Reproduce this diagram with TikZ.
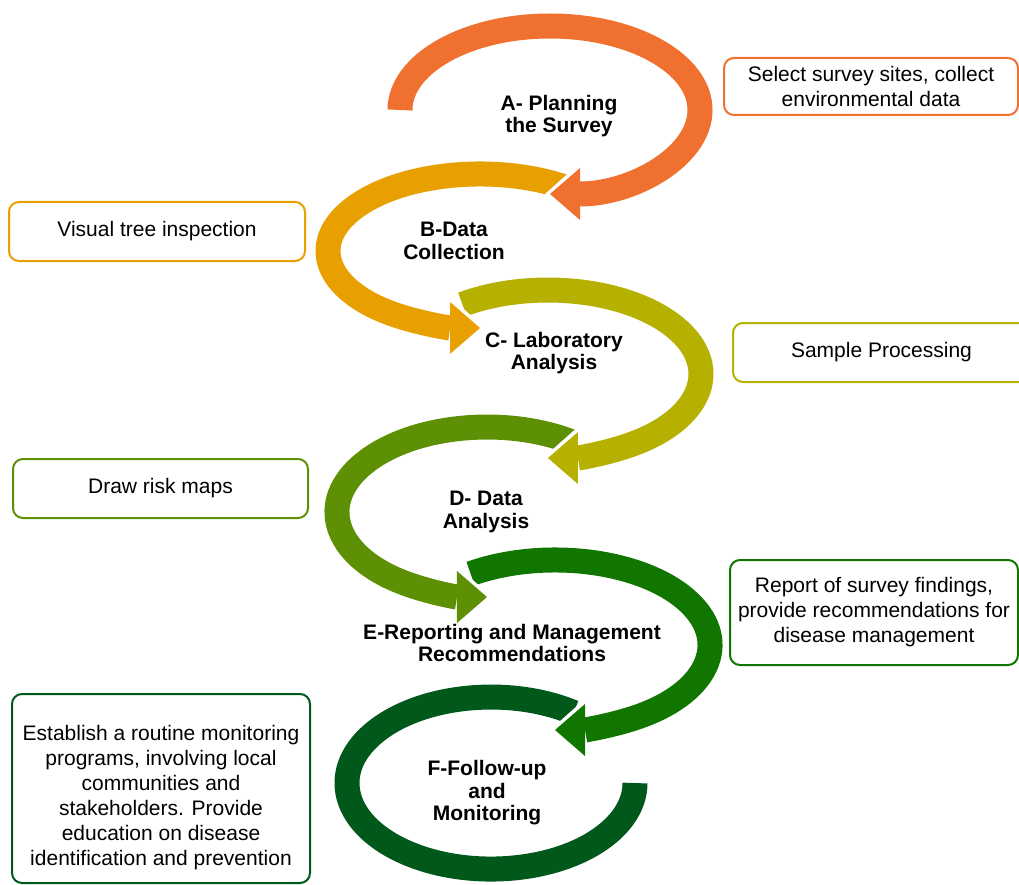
\documentclass[tikz,border=0pt]{standalone}
\usepackage{fontspec}
\setmainfont{Liberation Sans}
\usetikzlibrary{arrows.meta}

\definecolor{stageA}{RGB}{240,112,48}
\definecolor{stageB}{RGB}{232,160,0}
\definecolor{stageC}{RGB}{182,176,0}
\definecolor{stageD}{RGB}{94,144,6}
\definecolor{stageE}{RGB}{16,118,0}
\definecolor{stageF}{RGB}{0,88,26}

\begin{document}
\begin{tikzpicture}[x=1pt, y=-1pt]
    \tikzstyle{band} = [line width=25pt, preaction={draw=white, line width=31pt, shorten >=-5pt, -{Triangle[width=66pt,length=37pt,line width=0pt]}}, -{Triangle[width=52pt,length=30pt,line width=0pt]}]
    \tikzstyle{stage} = [font=\fontsize{21}{22.5}\selectfont\bfseries, align=center]
    \tikzstyle{note} = [draw, line width=2pt, rounded corners=10pt, font=\fontsize{21}{25}\selectfont, align=center, inner sep=0pt]
    \useasboundingbox (0,0) rectangle (1019,885);

    % arcs, last stage first so each arrowhead lies over the next arc
    \draw[line width=25pt, stageF] (573.6,712.6) arc[start angle=-55, end angle=-360, x radius=144, y radius=86];
    \draw[band, stageE] (470.6,573.7) arc[start angle=237, end angle=450, x radius=155, y radius=85];
    \draw[band, stageD] (573,442.4) arc[start angle=-55, end angle=-270, x radius=150, y radius=85];
    \draw[band, stageC] (462.4,304.4) arc[start angle=236, end angle=450, x radius=153, y radius=84];
    \draw[band, stageB] (567.2,187.9) arc[start angle=-55, end angle=-270, x radius=152, y radius=77];
    \draw[band, stageA] (400,110) arc[start angle=180, end angle=450, x radius=150, y radius=84];

    % stage labels
    \node[stage] (labA) at (559,116) {A- Planning\\the Survey};
    \node[stage] (labB) at (454,241) {B-Data\\Collection};
    \node[stage] (labC) at (554,353) {C- Laboratory\\Analysis};
    \node[stage] (labD) at (486,512) {D- Data\\Analysis};
    \node[stage] (labE) at (512,643) {E-Reporting and Management\\Recommendations};
    \node[stage] (labF) at (487,793) {F-Follow-up\\and\\Monitoring};

    % side notes
    \node[note, draw=stageA, minimum width=294pt, minimum height=57pt] (sitesbox) at (871,86.5) {Select survey sites, collect\\environmental data};
    \node[note, draw=stageB, minimum width=296pt, minimum height=59pt] (inspbox) at (157,231.5) {Visual tree inspection};
    \node[note, draw=stageC, minimum width=297pt, minimum height=59pt] (procbox) at (881.5,352.5) {Sample Processing};
    \node[note, draw=stageD, minimum width=295pt, minimum height=59pt] (mapbox) at (160.5,488.5) {Draw risk maps};
    \node[note, draw=stageE, minimum width=288pt, minimum height=105pt] (reportbox) at (874,612.5) {Report of survey findings,\\provide recommendations for\\disease management};
    \node[note, draw=stageF, minimum width=298pt, minimum height=189pt] (monbox) at (161,788.5) {\rule{0pt}{33pt}Establish a routine monitoring\\programs, involving local\\communities and\\stakeholders. Provide\\education on disease\\identification and prevention};
\end{tikzpicture}
\end{document}
